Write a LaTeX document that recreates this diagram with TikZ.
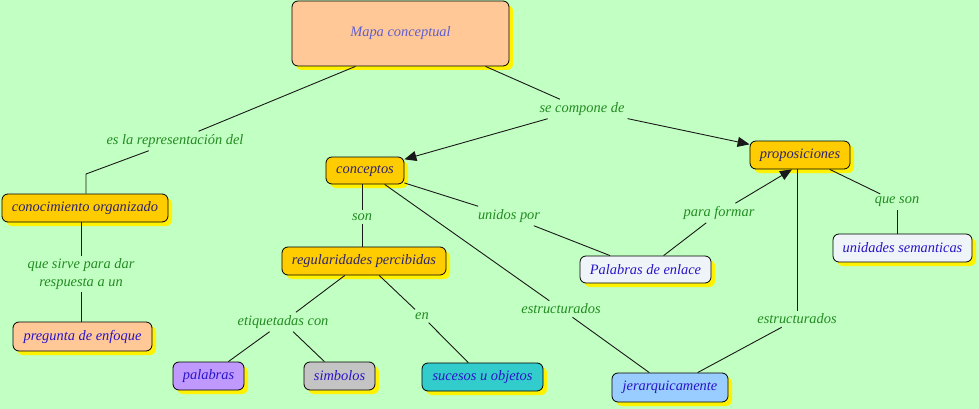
\documentclass[tikz,border=0pt]{standalone}
\usepackage{fontspec}
\setmainfont{Liberation Serif}
\usetikzlibrary{shadows,arrows.meta,calc}
\definecolor{bg}{RGB}{194,255,194}
\definecolor{gold}{RGB}{255,204,0}
\definecolor{peach}{RGB}{255,200,150}
\definecolor{violet}{RGB}{192,153,255}
\definecolor{grayc}{RGB}{196,196,196}
\definecolor{tealc}{RGB}{51,204,204}
\definecolor{lblue}{RGB}{153,204,255}
\definecolor{whitish}{RGB}{238,244,248}
\definecolor{lnk}{RGB}{34,139,34}
\definecolor{darktxt}{RGB}{45,35,110}
\definecolor{bluetxt}{RGB}{40,20,200}
\definecolor{mapatxt}{RGB}{95,95,210}
\begin{document}
\begin{tikzpicture}[x=1pt,y=-1pt,
  every node/.style={font=\fontsize{14.4}{16}\selectfont\itshape},
  concept/.style={draw=black, line width=0.8pt, rounded corners=6pt, inner sep=0pt,
    drop shadow={shadow xshift=4pt, shadow yshift=-4pt, fill=yellow, opacity=1}},
  linkw/.style={text=lnk, inner sep=3pt, align=center},
  conn/.style={line width=0.9pt, draw=black!90},
  arr/.style={conn, -{Triangle[length=12pt,width=10pt]}}]
\fill[bg] (0,0) rectangle (979,409);
\useasboundingbox (0,0) rectangle (979,409);
% concepts
\node[concept, fill=peach, text=mapatxt, minimum width=217pt, minimum height=65pt] (mapa) at (400.5,33.5) {Mapa conceptual};
\node[concept, fill=gold, text=darktxt, minimum width=166pt, minimum height=28pt] (conoc) at (85,208) {conocimiento organizado};
\node[concept, fill=peach, text=bluetxt, minimum width=139pt, minimum height=29pt] (preg) at (82.5,336.5) {pregunta de enfoque};
\node[concept, fill=gold, text=darktxt, minimum width=78pt, minimum height=27pt] (concep) at (365,170.5) {conceptos};
\node[concept, fill=gold, text=darktxt, minimum width=164pt, minimum height=28pt] (regul) at (364,261) {regularidades percibidas};
\node[concept, fill=violet, text=bluetxt, minimum width=71pt, minimum height=28pt] (palab) at (208.5,376) {palabras};
\node[concept, fill=grayc, text=bluetxt, minimum width=71pt, minimum height=28pt] (simb) at (339.5,376) {simbolos};
\node[concept, fill=tealc, text=bluetxt, minimum width=121pt, minimum height=28pt] (suces) at (482.5,377) {sucesos u objetos};
\node[concept, fill=lblue, text=bluetxt, minimum width=116pt, minimum height=29pt] (jerar) at (670,387.5) {jerarquicamente};
\node[concept, fill=gold, text=darktxt, minimum width=100pt, minimum height=28pt] (propos) at (800,155) {proposiciones};
\node[concept, fill=whitish, text=bluetxt, minimum width=131pt, minimum height=27pt] (enlace) at (645.5,269.5) {Palabras de enlace};
\node[concept, fill=whitish, text=bluetxt, minimum width=139pt, minimum height=28pt] (unid) at (902.5,248) {unidades semanticas};
% linking words
\node[linkw] (esla) at (175,141) {es la representación del};
\node[linkw] (secomp) at (582,109) {se compone de};
\node[linkw] (son) at (362,217) {son};
\node[linkw] (unidos) at (509,216) {unidos por};
\node[linkw] (parafor) at (719,213) {para formar};
\node[linkw] (queson) at (897,202) {que son};
\node[linkw, font=\fontsize{14.4}{17.5}\selectfont\itshape] (qsirve) at (81,274) {que sirve para dar\\respuesta a un};
\node[linkw] (etiq) at (283,322) {etiquetadas con};
\node[linkw] (en) at (422,316) {en};
\node[linkw] (estr1) at (561,309) {estructurados};
\node[linkw] (estr2) at (797,319) {estructurados};
\coordinate (bend) at (86,174);
% connectors
\draw[conn] ([xshift=-45pt]mapa.south) -- (esla);
\draw[conn] (esla) -- (bend) -- (conoc.north -| bend);
\draw[conn] ([xshift=85pt]mapa.south) -- (secomp);
\draw[arr] (secomp) -- (concep);
\draw[arr] (secomp) -- (propos);
\draw[conn] (conoc.south -| qsirve) -- (qsirve);
\draw[conn] (qsirve) -- (preg.north -| qsirve);
\draw[conn] (concep.south -| son) -- (son);
\draw[conn] (son) -- (regul.north -| son);
\draw[conn] (concep) -- (unidos);
\draw[conn] (unidos) -- (enlace);
\draw[conn] (enlace) -- (parafor);
\draw[arr] (parafor) -- ([xshift=-8pt]propos.south);
\draw[conn] (propos) -- (queson);
\draw[conn] (queson) -- (unid.north -| queson);
\draw[conn] (concep) -- (estr1);
\draw[conn] (estr1) -- (jerar);
\draw[conn] (propos.south -| estr2.north) -- (estr2);
\draw[conn] (estr2) -- (jerar);
\draw[conn] (regul) -- (etiq);
\draw[conn] (etiq) -- (palab);
\draw[conn] (etiq) -- (simb);
\draw[conn] (regul) -- (en);
\draw[conn] (en) -- (suces);
\end{tikzpicture}
\end{document}
